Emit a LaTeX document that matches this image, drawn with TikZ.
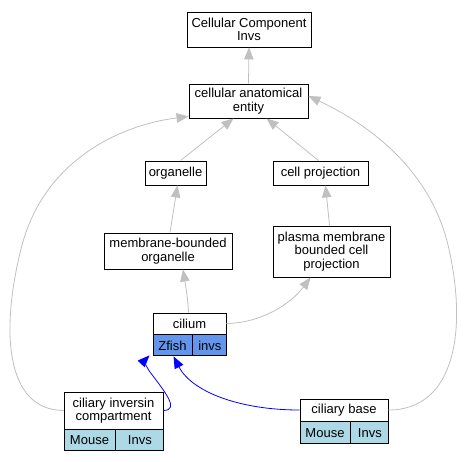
\documentclass[tikz,border=0pt]{standalone}
\usepackage{fontspec}
\setmainfont{Liberation Sans}
\usetikzlibrary{arrows.meta, positioning}
\definecolor{zfish}{HTML}{6495ED}
\definecolor{mouse}{HTML}{ADD8E6}
\definecolor{isagray}{HTML}{C0C0C0}

\begin{document}
\begin{tikzpicture}[x=1pt, y=-1pt,
  every node/.style={font=\fontsize{13}{13.6}\selectfont},
  term/.style={draw, line width=0.9pt, fill=white, align=center, inner sep=0pt},
  cell/.style={draw, line width=0.9pt, inner sep=0pt, minimum height=21pt, anchor=north west},
  isa/.style={draw=isagray, line width=0.8pt, -{Triangle[length=12pt,width=9.5pt]}},
  annot/.style={draw=blue, line width=0.8pt, -{Triangle[length=12pt,width=9.5pt]}}]
  \useasboundingbox (0,0) rectangle (470,461);
  % Terms
  \node[term, minimum width=124pt, minimum height=35pt] (cc) at (249,29.5) {Cellular Component\\Invs};
  \node[term, minimum width=119pt, minimum height=34pt] (cae) at (248.5,101) {cellular anatomical\\entity};
  \node[term, minimum width=61pt, minimum height=24pt] (org) at (175.5,173) {organelle};
  \node[term, minimum width=95pt, minimum height=24pt] (cp) at (320.5,173) {cell projection};
  \node[term, minimum width=128pt, minimum height=36pt] (mbo) at (168,251) {membrane-bounded\\organelle};
  \node[term, minimum width=117pt, minimum height=51pt] (pmb) at (331.5,251.5) {plasma membrane\\bounded cell\\projection};
  % Annotated terms with species cells
  \node[term, minimum width=73pt, minimum height=21pt] (cil) at (189.5,323.5) {cilium};
  \node[cell, fill=zfish, minimum width=39pt] (cilZ) at (cil.south west) {Zfish};
  \node[cell, fill=zfish, minimum width=34pt] (cilI) at (cilZ.north east) {invs};
  \node[term, minimum width=99pt, minimum height=37pt] (cic) at (113.5,410.5) {ciliary inversin\\compartment};
  \node[cell, fill=mouse, minimum width=51pt] (cicM) at (cic.south west) {Mouse};
  \node[cell, fill=mouse, minimum width=48pt] (cicI) at (cicM.north east) {Invs};
  \node[term, minimum width=88pt, minimum height=22pt] (cb) at (344,410) {ciliary base};
  \node[cell, fill=mouse, minimum width=50pt, minimum height=22pt] (cbM) at (cb.south west) {Mouse};
  \node[cell, fill=mouse, minimum width=38pt, minimum height=22pt] (cbI) at (cbM.north east) {Invs};
  % is_a edges
  \draw[isa] (cae.north) -- (cc.south);
  \draw[isa] ([xshift=5pt]org.north) -- ([xshift=-15pt]cae.south);
  \draw[isa] ([xshift=-2pt]cp.north) -- ([xshift=18pt]cae.south);
  \draw[isa] ([xshift=2pt]mbo.north) -- ([xshift=2pt]org.south);
  \draw[isa] ([xshift=-2pt]pmb.north) -- ([xshift=5pt]cp.south);
  \draw[isa] ([xshift=-1pt]cil.north) .. controls (188,300) and (186,288) .. ([xshift=15pt]mbo.south);
  \draw[isa] (cil.east) .. controls (260,323) and (290,305) .. ([xshift=-21pt]pmb.south);
  \draw[isa] (cic.west) .. controls (5,410) and (0,330) .. (22,245)
                        .. controls (45,160) and (120,125) .. ([yshift=2pt]cae.south west);
  \draw[isa] (cb.east) .. controls (455,410) and (468,330) .. (448,245)
                       .. controls (430,170) and (370,125) .. ([yshift=5pt]cae.east);
  % Annotation edges
  \draw[annot] (cic.east) .. controls (180,410) and (165,392) .. (150,372)
                          .. controls (145,365) and (145,360) .. ([xshift=-3pt,yshift=1pt]cilZ.south west);
  \draw[annot] (cb.west) .. controls (240,410) and (192,392) .. ([xshift=1pt]cilZ.south);
\end{tikzpicture}
\end{document}
